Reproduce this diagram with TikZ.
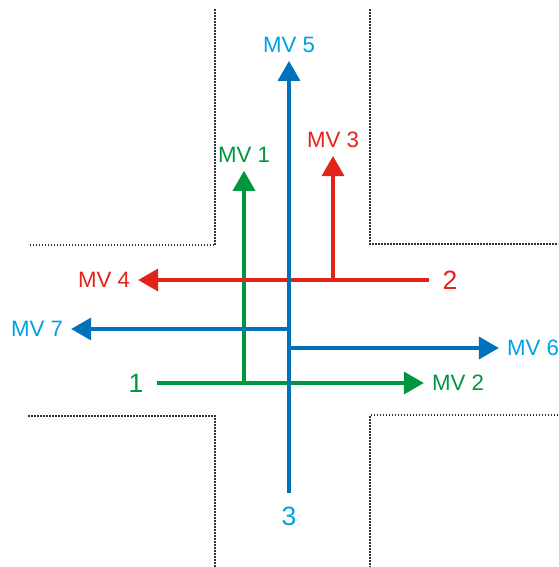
\documentclass[tikz,border=0pt]{standalone}
\usepackage{fontspec}
\setmainfont{Liberation Sans}
\usetikzlibrary{arrows.meta}
\definecolor{mvblue}{RGB}{0,114,188}
\definecolor{mvsky}{RGB}{0,160,227}
\definecolor{mvred}{RGB}{226,35,26}
\definecolor{mvgreen}{RGB}{0,150,64}
\definecolor{kerb}{RGB}{50,50,50}

\begin{document}
\begin{tikzpicture}[x=0.3mm,y=-0.3mm,
    >={Triangle[length=6mm,width=6.6mm]},
    kerbline/.style={kerb,line width=0.45mm,dash pattern=on 0.45mm off 0.45mm},
    move/.style={line width=1mm,shorten >=1.2mm},
    mvlabel/.style={font=\fontsize{19}{22}\selectfont},
    armlabel/.style={font=\fontsize{22.6}{27}\selectfont,inner sep=4mm}]
    \useasboundingbox (0,0) rectangle (558,567);
    % kerbs of the crossing
    \draw[kerbline] (215,9) -- (215,245) -- (28,245);
    \draw[kerbline] (370,9) -- (370,244) -- (558,244);
    \draw[kerbline] (28,416) -- (215,416) -- (215,567);
    \draw[kerbline] (558,415) -- (370,415) -- (370,567);
    % arms
    \node[armlabel,mvgreen] (arm1) at (136,383) {1};
    \node[armlabel,mvred] (arm2) at (450,280) {2};
    \node[armlabel,mvsky] (arm3) at (289,516) {3};
    % movements
    \node[mvlabel,mvgreen] (mv1) at (244,155) {MV 1};
    \node[mvlabel,mvgreen] (mv2) at (458,383) {MV 2};
    \node[mvlabel,mvred] (mv3) at (333,140) {MV 3};
    \node[mvlabel,mvred] (mv4) at (104,280) {MV 4};
    \node[mvlabel,mvsky] (mv5) at (289,45) {MV 5};
    \node[mvlabel,mvsky] (mv6) at (533,348) {MV 6};
    \node[mvlabel,mvsky] (mv7) at (37,329) {MV 7};
    \coordinate (split1) at (244,383);
    \coordinate (split2) at (333,280);
    \coordinate (split3a) at (289,329);
    \coordinate (split3b) at (289,348);
    \draw[->,move,mvgreen] (arm1) -- (mv2);
    \draw[->,move,mvgreen] (split1) -- (mv1);
    \draw[->,move,mvred] (arm2) -- (mv4);
    \draw[->,move,mvred] (split2) -- (mv3);
    \draw[->,move,mvblue] (arm3) -- (mv5);
    \draw[->,move,mvblue] (split3a) -- (mv7);
    \draw[->,move,mvblue] (split3b) -- (mv6);
\end{tikzpicture}
\end{document}
